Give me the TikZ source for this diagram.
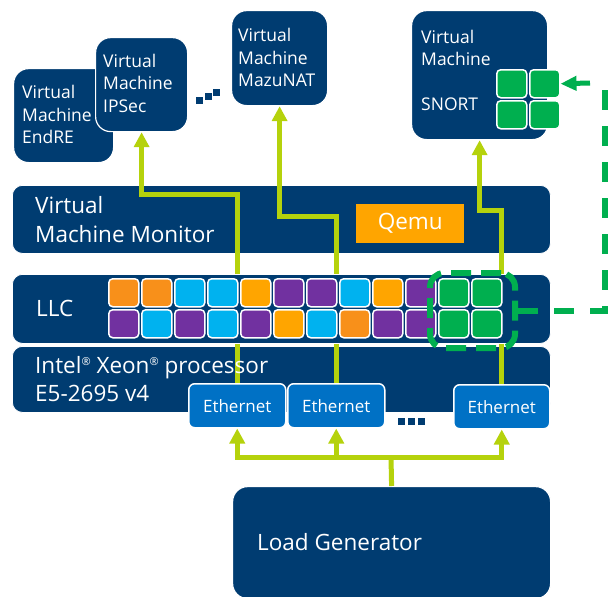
\documentclass[tikz,border=0pt]{standalone}
\usepackage{fontspec}
\setmainfont{Open Sans}
\usetikzlibrary{arrows.meta}
\definecolor{navy}{HTML}{003C71}
\definecolor{ethblue}{HTML}{0071C5}
\definecolor{cyanc}{HTML}{00B2EF}
\definecolor{purplec}{HTML}{7131A0}
\definecolor{orangec}{HTML}{FFA500}
\definecolor{dorange}{HTML}{F8901A}
\definecolor{greenc}{HTML}{00AF4F}
\definecolor{limec}{HTML}{B5D20C}
\newcommand{\regmark}{\raisebox{8pt}{\fontsize{11}{11}\selectfont\textregistered}}
\begin{document}
\begin{tikzpicture}[x=1pt,y=-1pt,
  bar/.style={draw=white, line width=0.8pt, fill=navy, rounded corners=10pt, anchor=north west, inner sep=0pt, minimum width=538pt},
  vm/.style={draw=white, line width=1.2pt, fill=navy, rounded corners=15pt, anchor=north west, inner sep=0pt},
  eth/.style={draw=white, line width=1.5pt, fill=ethblue, rounded corners=6pt, anchor=north west, inner sep=0pt, minimum width=97pt, minimum height=44pt, text=white, font=\fontsize{17}{20}\selectfont},
  cell/.style={draw=white, line width=1.5pt, rounded corners=4pt, anchor=north west, minimum width=30pt, minimum height=28pt, inner sep=0pt},
  smalltxt/.style={text=white, anchor=base west, inner sep=0pt, font=\fontsize{17.5}{21}\selectfont},
  bigtxt/.style={text=white, anchor=base west, inner sep=0pt, font=\fontsize{22.5}{27}\selectfont},
  limeline/.style={draw=limec, line width=5pt},
  limearrow/.style={limeline, -{Triangle[width=15pt,length=15pt]}},
  greendash/.style={draw=greenc, line width=6pt, dash pattern=on 20pt off 16pt},
  greenarrow/.style={draw=greenc, line width=5pt, -{Triangle[width=14pt,length=16pt]}},
  dotsq/.style={fill=navy, minimum size=6.5pt, inner sep=0pt, anchor=north west},
]
\useasboundingbox (0,0) rectangle (608,597);
% bars
\node[bar, minimum height=68pt] (vmm) at (12,185) {};
\node[bar, minimum height=66pt] (xeon) at (12,346) {};
\node[fill=orangec, anchor=north west, minimum width=108pt, minimum height=39pt, inner sep=0pt, text=white, font=\fontsize{22.5}{26}\selectfont] (qemu) at (356,204) {Qemu};
\node[vm, minimum width=318pt, minimum height=112pt] (load) at (232,486) {};
% ethernet
\node[eth] (eth1) at (188,383) {Ethernet};
\node[eth] (eth2) at (287,383) {Ethernet};
\node[eth, minimum width=96pt] (eth3) at (453,384) {Ethernet};
% VMs
\node[vm, minimum width=100pt, minimum height=94pt] (endre) at (13,68) {};
\node[vm, minimum width=92pt, minimum height=94pt] (ipsec) at (95,37) {};
\node[vm, minimum width=96pt, minimum height=95pt] (mazu) at (231,10) {};
\node[vm, minimum width=136pt, minimum height=129pt] (snort) at (411,10) {};
\node[cell, fill=greenc] (sc1) at (496,69) {};
\node[cell, fill=greenc] (sc2) at (529,69) {};
\node[cell, fill=greenc] (sc3) at (496,100) {};
\node[cell, fill=greenc] (sc4) at (529,100) {};
% lime connectors
\draw[limearrow] (eth1.north) -- (eth1.north |- 0,194) -| (ipsec.south);
\draw[limearrow] (eth2.north) -- (eth2.north |- 0,216) -| (mazu.south);
\draw[limearrow] (eth3.north) -- (eth3.north |- 0,210) -| (snort.south);
\coordinate (bus) at (391,457);
\draw[limeline] (load.north) -- (bus);
\draw[limearrow] (bus) -| (eth1.south);
\draw[limearrow] (bus) -| (eth2.south);
\draw[limearrow] (bus) -| (eth3.south);
% LLC
\node[bar, minimum height=69pt] (llc) at (12,274) {};
\foreach \c [count=\i from 0] in {dorange,dorange,cyanc,cyanc,orangec,purplec,purplec,cyanc,orangec,purplec,greenc,greenc}
  \node[cell, fill=\c] (ca\i) at ({108+33*\i},278) {};
\foreach \c [count=\i from 0] in {purplec,cyanc,purplec,cyanc,purplec,orangec,cyanc,dorange,purplec,purplec,greenc,greenc}
  \node[cell, fill=\c] (cb\i) at ({108+33*\i},309) {};
\node[draw=greenc, dash pattern=on 20pt off 10pt, line width=6pt, rounded corners=14pt, anchor=north west, minimum width=85pt, minimum height=75pt, inner sep=0pt] (sel) at (427,270) {};
% green connector
\coordinate (gturn) at (605,82);
\draw[greendash] (sel.east) -| (gturn);
\coordinate (gstart) at (590,83);
\draw[greenarrow] (gstart) -- (sc2.east);
% dots
\node[dotsq] (d1) at (196,97) {};
\node[dotsq] (d2) at (205,93) {};
\node[dotsq] (d3) at (213,89) {};
\node[dotsq] (d4) at (398,418) {};
\node[dotsq] (d5) at (408,418) {};
\node[dotsq] (d6) at (418,418) {};
% texts
\node[smalltxt] (t1) at (22,98) {Virtual};
\node[smalltxt] (t2) at (22,121) {Machine};
\node[smalltxt] (t3) at (22,143) {EndRE};
\node[smalltxt] (t4) at (103,67) {Virtual};
\node[smalltxt] (t5) at (103,89) {Machine};
\node[smalltxt] (t6) at (103,112) {IPSec};
\node[smalltxt] (t7) at (238,41) {Virtual};
\node[smalltxt] (t8) at (238,64) {Machine};
\node[smalltxt] (t9) at (238,86) {MazuNAT};
\node[smalltxt] (t10) at (421,43) {Virtual};
\node[smalltxt] (t11) at (421,65) {Machine};
\node[smalltxt] (t12) at (421,110) {SNORT};
\node[bigtxt] (t13) at (35,213) {Virtual};
\node[bigtxt] (t14) at (35,242) {Machine Monitor};
\node[bigtxt] (t15) at (36,316) {LLC};
\node[bigtxt] (t16) at (35,373) {Intel\regmark{} Xeon\regmark{} processor};
\node[bigtxt] (t17) at (35,401) {E5-2695 v4};
\node[bigtxt] (t18) at (257,550) {Load Generator};
\end{tikzpicture}
\end{document}
